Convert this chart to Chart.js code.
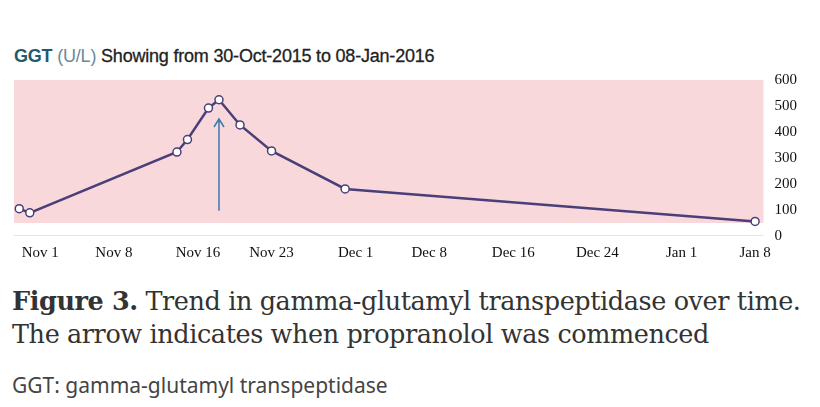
<!DOCTYPE html>
<html>
<head>
<meta charset="utf-8">
<script src="https://cdn.jsdelivr.net/npm/chart.js@4"></script>
<style>
body{margin:0;background:#fff;width:820px;height:407px;position:relative;overflow:hidden}
#title{position:absolute;left:14px;top:46px;font-family:"Liberation Sans",Arial;font-size:18px;color:#222;letter-spacing:-0.2px;-webkit-text-stroke:0.3px #222}
#title b{color:#1e5a70;-webkit-text-stroke:0}
#title span{color:#6a8a97;-webkit-text-stroke:0}
#box{position:absolute;left:0;top:68px;width:800px;height:194px}
#cap{position:absolute;left:12px;top:285px;font-family:"DejaVu Serif",serif;font-size:25.5px;line-height:33px;color:#333;letter-spacing:-0.4px}
#note{position:absolute;left:12px;top:371px;font-family:"Noto Sans",sans-serif;font-size:21px;color:#444}
</style>
</head>
<body>
<div id="title"><b>GGT</b> <span>(U/L)</span> Showing from 30-Oct-2015 to 08-Jan-2016</div>
<div id="box"><canvas id="myChart"></canvas></div>
<div id="cap"><b>Figure 3.</b> Trend in gamma-glutamyl transpeptidase over time.<br>The arrow indicates when propranolol was commenced</div>
<div id="note">GGT: gamma-glutamyl transpeptidase</div>
<script>
// days counted from Nov 1 2015
var days = [-2, -1, 13, 14, 16, 17, 19, 22, 29, 68];
var ggt = [105, 89, 323, 371, 492, 524, 427, 327, 181, 56];
var tickDays = [0, 7, 15, 22, 30, 37, 45, 53, 61, 68];
var tickLabels = ['Nov 1', 'Nov 8', 'Nov 16', 'Nov 23', 'Dec 1', 'Dec 8', 'Dec 16', 'Dec 24', 'Jan 1', 'Jan 8'];
var arrowDay = 17, arrowFrom = 97, arrowTo = 450;
var bandLow = 50, bandHigh = 600;

var bandPlugin = {
  id: 'band',
  beforeDatasetsDraw: function(chart) {
    var c = chart.ctx, a = chart.chartArea, y = chart.scales.y;
    c.save();
    c.fillStyle = '#f9d8dc';
    c.fillRect(a.left, y.getPixelForValue(bandHigh), a.right - a.left, y.getPixelForValue(bandLow) - y.getPixelForValue(bandHigh));
    c.strokeStyle = '#e4e4e4';
    c.beginPath(); c.moveTo(a.left, y.getPixelForValue(0) - 0.5); c.lineTo(a.right, y.getPixelForValue(0) - 0.5); c.stroke();
    c.restore();
  },
  afterDatasetsDraw: function(chart) {
    var c = chart.ctx, x = chart.scales.x, y = chart.scales.y;
    var px = x.getPixelForValue(arrowDay), y0 = y.getPixelForValue(arrowFrom), y1 = y.getPixelForValue(arrowTo);
    c.save();
    c.strokeStyle = '#3d78b0'; c.lineWidth = 1.5;
    c.beginPath(); c.moveTo(px, y0); c.lineTo(px, y1);
    c.moveTo(px - 5, y1 + 8); c.lineTo(px, y1); c.lineTo(px + 5, y1 + 8);
    c.stroke(); c.restore();
  }
};

var ctx = document.getElementById('myChart').getContext('2d');
var myChart = new Chart(ctx, {
  type: 'scatter',
  data: {
    datasets: [{
      data: days.map(function(d, i) { return {x: d, y: ggt[i]}; }),
      showLine: true,
      borderColor: '#4a3f78',
      borderWidth: 2.5,
      pointRadius: 4,
      pointBorderWidth: 1.5,
      pointBackgroundColor: '#fff',
      pointBorderColor: '#4a3f78'
    }]
  },
  options: {
    responsive: true, maintainAspectRatio: false, animation: false,
    layout: {padding: {left: 14, top: 10}},
    plugins: {legend: {display: false}, tooltip: {enabled: false}},
    scales: {
      x: {
        type: 'linear', min: -2.5, max: 68.8,
        grid: {display: false}, border: {display: false},
        afterBuildTicks: function(s) { s.ticks = tickDays.map(function(v) { return {value: v}; }); },
        ticks: {autoSkip: false, maxRotation: 0, padding: 0, color: '#111', font: {family: 'Liberation Serif', size: 15},
          callback: function(v) { return tickLabels[tickDays.indexOf(v)]; }}
      },
      y: {
        position: 'right', min: 0, max: 600,
        grid: {display: false}, border: {display: false},
        ticks: {stepSize: 100, color: '#111', font: {family: 'Liberation Serif', size: 15}}
      }
    }
  },
  plugins: [bandPlugin]
});
</script>
</body>
</html>
